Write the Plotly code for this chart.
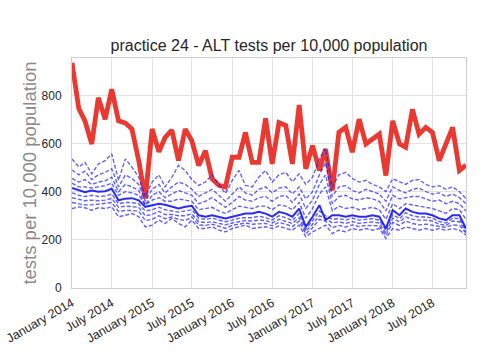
import plotly.graph_objects as go
import pandas as pd

months = pd.date_range("2014-01-01", "2018-12-01", freq="MS").strftime("%Y-%m-%d").tolist()

practice = [935, 745, 694, 598, 790, 701, 825, 694, 685, 660, 529, 372, 660, 565, 625,
            656, 529, 660, 611, 509, 570, 454, 426, 419, 543, 543, 646, 522, 522, 704,
            515, 687, 675, 515, 760, 495, 591, 488, 577, 405, 646, 667, 564, 701, 598,
            619, 639, 467, 694, 598, 584, 742, 639, 667, 646, 529, 598, 667, 488, 510]

p90 = [536, 502, 522, 474, 515, 529, 557, 447, 536, 502, 460, 380, 440, 470, 420,
       460, 509, 488, 450, 426, 440, 470, 430, 392, 447, 488, 426, 420, 460, 488,
       440, 470, 480, 441, 474, 430, 460, 536, 580, 420, 470, 480, 455, 440, 447,
       430, 420, 400, 454, 440, 430, 447, 450, 430, 420, 425, 410, 420, 400, 371]
p80 = [490, 470, 485, 450, 470, 480, 495, 420, 470, 455, 430, 360, 410, 430, 395,
       420, 440, 430, 410, 380, 395, 410, 385, 360, 390, 420, 395, 385, 410, 420,
       395, 415, 420, 390, 420, 370, 400, 470, 520, 380, 420, 425, 405, 395, 410,
       400, 390, 360, 420, 405, 395, 410, 415, 400, 390, 395, 380, 390, 375, 350]
p70 = [455, 440, 450, 430, 440, 445, 460, 400, 430, 420, 405, 345, 385, 400, 375,
       390, 405, 395, 385, 350, 360, 375, 355, 335, 355, 380, 365, 360, 375, 380,
       360, 380, 385, 355, 390, 330, 365, 430, 470, 350, 380, 385, 370, 365, 375,
       370, 360, 320, 385, 370, 375, 380, 380, 370, 360, 365, 350, 360, 350, 320]
p60 = [435, 420, 420, 415, 420, 425, 435, 385, 400, 395, 385, 345, 365, 375, 360,
       360, 370, 365, 360, 325, 330, 335, 320, 310, 325, 340, 335, 330, 340, 340,
       325, 345, 340, 325, 355, 290, 330, 390, 420, 320, 340, 330, 335, 325, 330,
       335, 325, 285, 350, 330, 350, 345, 340, 335, 330, 320, 310, 330, 325, 285]
median = [415, 405, 398, 405, 400, 402, 412, 364, 371, 373, 364, 337, 344, 350, 346,
          337, 330, 337, 341, 302, 296, 302, 296, 289, 296, 302, 309, 309, 316, 309,
          296, 316, 309, 296, 330, 254, 296, 344, 282, 302, 302, 296, 302, 296, 296,
          302, 296, 247, 323, 302, 330, 316, 309, 309, 302, 289, 282, 302, 302, 247]
p40 = [395, 385, 380, 385, 380, 382, 390, 350, 355, 355, 350, 320, 325, 335, 325,
       320, 315, 320, 325, 290, 285, 290, 282, 275, 282, 290, 292, 292, 298, 292,
       282, 300, 292, 280, 310, 245, 280, 320, 300, 285, 288, 282, 290, 282, 285,
       288, 282, 240, 305, 288, 312, 300, 295, 295, 290, 276, 270, 290, 288, 240]
p30 = [375, 368, 362, 365, 362, 365, 372, 335, 340, 338, 335, 300, 305, 318, 305,
       305, 300, 300, 308, 275, 272, 275, 268, 262, 270, 276, 280, 278, 282, 280,
       270, 285, 278, 268, 292, 235, 265, 300, 290, 270, 275, 268, 276, 268, 272,
       274, 270, 228, 290, 275, 295, 285, 282, 282, 278, 265, 260, 278, 275, 232]
p20 = [355, 350, 345, 345, 348, 350, 355, 318, 322, 322, 318, 280, 285, 300, 288,
       295, 285, 280, 295, 262, 260, 265, 255, 248, 260, 265, 270, 265, 268, 268,
       258, 272, 265, 255, 278, 225, 250, 285, 278, 250, 260, 253, 262, 255, 260,
       258, 258, 218, 272, 260, 278, 268, 262, 265, 262, 256, 252, 262, 260, 228]
p10 = [330, 337, 333, 323, 333, 330, 337, 296, 302, 309, 296, 254, 261, 282, 268,
       289, 268, 254, 282, 247, 247, 254, 240, 233, 247, 254, 261, 247, 250, 254,
       247, 257, 247, 240, 261, 213, 233, 247, 261, 226, 240, 233, 247, 240, 247,
       240, 247, 206, 247, 240, 254, 247, 240, 247, 240, 247, 240, 247, 240, 220]

tick_dates = ["2014-01-01", "2014-07-01", "2015-01-01", "2015-07-01", "2016-01-01",
              "2016-07-01", "2017-01-01", "2017-07-01", "2018-01-01", "2018-07-01"]
tick_labels = ["January 2014", "July 2014", "January 2015", "July 2015", "January 2016",
               "July 2016", "January 2017", "July 2017", "January 2018", "July 2018"]
y_ticks = [0, 200, 400, 600, 800]

fig = go.Figure()
fig.add_trace(go.Scatter(x=months, y=practice, mode="lines",
                         line=dict(color="rgba(232,40,30,0.92)", width=4.8)))
for s in [p10, p20, p30, p40, p60, p70, p80, p90]:
    fig.add_trace(go.Scatter(x=months, y=s, mode="lines",
                             line=dict(color="rgba(30,30,255,0.7)", width=1.4, dash="4px,2px")))
fig.add_trace(go.Scatter(x=months, y=median, mode="lines",
                         line=dict(color="rgba(20,20,240,0.9)", width=2)))

font = "Liberation Sans, Arial, sans-serif"
fig.update_layout(
    width=500, height=357,
    margin=dict(l=72, r=34, t=58, b=69),
    paper_bgcolor="white", plot_bgcolor="white",
    showlegend=False,
    font=dict(family=font, color="#262626", size=11),
    title=dict(text="practice 24 - ALT tests per 10,000 population",
               x=0.5, xref="paper", y=1 - 45 / 357, yref="container",
               xanchor="center", yanchor="middle",
               font=dict(size=16, color="#262626", family=font)),
)
fig.update_xaxes(
    automargin=False,
    range=[months[0], months[-1]],
    tickvals=tick_dates, ticktext=tick_labels, tickangle=-30,
    tickfont=dict(size=12.5, color="#262626"),
    showgrid=True, gridcolor="#E2E2E2", gridwidth=1,
    showline=True, linecolor="#CFCFCF", linewidth=1, mirror=True,
    ticks="outside", ticklen=2, tickcolor="rgba(0,0,0,0)", zeroline=False,
)
fig.update_yaxes(
    automargin=False,
    range=[0, 955], tickvals=y_ticks,
    tickfont=dict(size=12, color="#262626"),
    showgrid=True, gridcolor="#E2E2E2", gridwidth=1,
    showline=True, linecolor="#CFCFCF", linewidth=1, mirror=True,
    ticks="outside", ticklen=7, tickcolor="rgba(0,0,0,0)", zeroline=False,
    title=dict(text="tests per 10,000 population", standoff=0,
               font=dict(size=18.5, color="#8a8a8a", family=font)),
)
fig.write_html("out.html", config={"displayModeBar": False},
               post_script="document.body.style.margin='0';")
